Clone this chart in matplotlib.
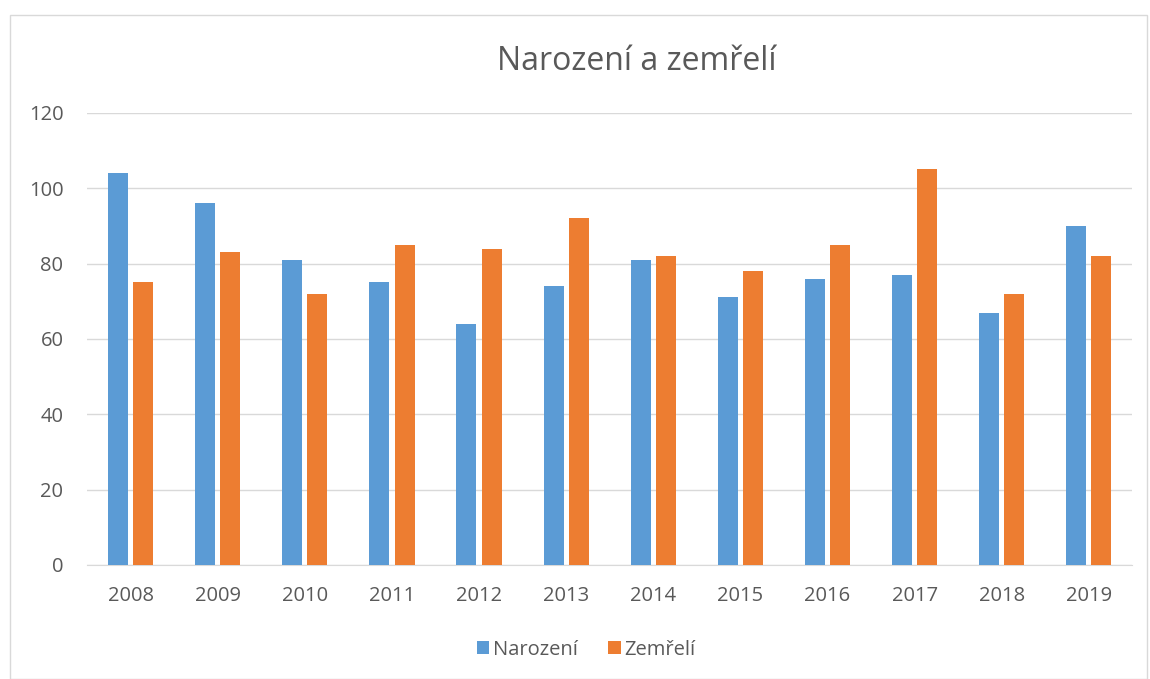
import matplotlib.pyplot as plt
import numpy as np
from matplotlib.patches import Rectangle

years = ['2008', '2009', '2010', '2011', '2012', '2013',
         '2014', '2015', '2016', '2017', '2018', '2019']
narozeni = [104, 96, 81, 75, 64, 74, 81, 71, 76, 77, 67, 90]
zemreli = [75, 83, 72, 85, 84, 92, 82, 78, 85, 105, 72, 82]

plt.rcParams['font.family'] = ['Open Sans', 'DejaVu Sans']
grey = '#595959'

fig = plt.figure(figsize=(11.5, 6.79), dpi=100)
ax = fig.add_axes([0.0757, 0.168, 0.909, 0.6657])

x = np.arange(len(years))
w = 0.23
ax.bar(x - 0.145, narozeni, w, color='#5B9BD5', label='Narození', zorder=3)
ax.bar(x + 0.145, zemreli, w, color='#ED7D31', label='Zemřelí', zorder=3)

ax.set_xlim(-0.5, len(years) - 0.5)
ax.set_ylim(0, 120)
ax.set_yticks(range(0, 121, 20))
ax.set_xticks(x, years)
ax.grid(axis='y', color='#D9D9D9', linewidth=1, zorder=0)
for s in ['top', 'right', 'left']:
    ax.spines[s].set_visible(False)
ax.spines['bottom'].set_color('#D9D9D9')
ax.tick_params(length=0, labelsize=14.5, colors=grey)
ax.tick_params(axis='x', pad=15)
ax.tick_params(axis='y', pad=17)

fig.text(0.554, 0.91, 'Narození a zemřelí', ha='center', va='center',
         fontsize=23, color=grey)

fig.legend(loc='center', bbox_to_anchor=(0.51, 0.043), ncol=2, frameon=False,
           fontsize=14.5, labelcolor=grey, handlelength=0.6, handleheight=0.6,
           columnspacing=1.5, handletextpad=0.2)

fig.patches.append(Rectangle((0.009, 0.0), 0.988, 0.978, transform=fig.transFigure,
                             fill=False, edgecolor='#D9D9D9', linewidth=1))

fig.savefig('out.png', dpi=100)
